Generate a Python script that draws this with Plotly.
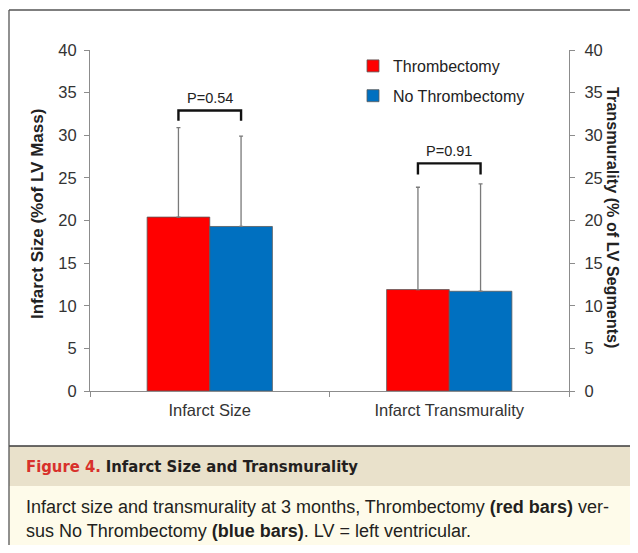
import plotly.graph_objects as go

# ---------------- data ----------------
categories = ["Infarct Size", "Infarct Transmurality"]
series_names = ["Thrombectomy", "No Thrombectomy"]
thrombectomy = [20.4, 11.9]
thrombectomy_sd = [10.5, 12.0]
no_thrombectomy = [19.3, 11.7]
no_thrombectomy_sd = [10.6, 12.6]
p_labels = ["P=0.54", "P=0.91"]
bracket_top = [32.9, 26.7]
bracket_end = [31.7, 25.4]
p_label_y = [34.4, 28.1]
y_ticks = [0, 5, 10, 15, 20, 25, 30, 35, 40]

# ---------------- geometry ----------------
# page body has an 8px margin; keep the figure inside the 638x553 window
OFF = 8
W, H = 638 - 2 * OFF, 553 - 2 * OFF
PLOT_X0, PLOT_X1, PLOT_Y0, PLOT_Y1 = 90, 569, 50, 391  # screen pixels
L, R = PLOT_X0 - OFF, W - (PLOT_X1 - OFF)
T, B = PLOT_Y0 - OFF, H - (PLOT_Y1 - OFF)
PW, PH = W - L - R, H - T - B
BARGAP = 0.477


def px(x):
    """screen x -> paper"""
    return (x - PLOT_X0) / PW


def py(y):
    """screen y -> paper"""
    return (PLOT_Y1 - y) / PH


RED = "#ff0000"
BLUE = "#0070c0"
AX = "#8c8c8c"
TXT = "#333333"
FONT = "Liberation Sans, Arial, sans-serif"

fig = go.Figure()
fig.add_trace(go.Bar(
    x=categories, y=thrombectomy, name=series_names[0],
    marker=dict(color=RED, line=dict(color="#5a5a5a", width=0.8)),
    error_y=dict(type="data", array=thrombectomy_sd, arrayminus=[0, 0],
                 symmetric=False, color="#7a7a7a", thickness=1.3, width=2),
    legendgroup="a",
))
fig.add_trace(go.Bar(
    x=categories, y=no_thrombectomy, name=series_names[1],
    marker=dict(color=BLUE, line=dict(color="#5a5a5a", width=0.8)),
    error_y=dict(type="data", array=no_thrombectomy_sd, arrayminus=[0, 0],
                 symmetric=False, color="#7a7a7a", thickness=1.3, width=2),
    legendgroup="b",
))
# invisible trace to anchor right axis
fig.add_trace(go.Scatter(x=categories, y=[None, None], yaxis="y2",
                         showlegend=False, hoverinfo="skip"))

shapes = []
annotations = []

# significance brackets
off = (1 - BARGAP) / 4
for i, lab in enumerate(p_labels):
    x0, x1 = i - off, i + off
    shapes.append(dict(
        type="path", xref="x", yref="y",
        path=f"M {x0},{bracket_end[i]} L {x0},{bracket_top[i]} L {x1},{bracket_top[i]} L {x1},{bracket_end[i]}",
        line=dict(color="#111111", width=2.4),
    ))
    annotations.append(dict(
        x=i, y=p_label_y[i], xref="x", yref="y", text=lab, showarrow=False,
        font=dict(family=FONT, size=14.5, color="#222222"),
        xanchor="center", yanchor="middle",
    ))

# axis titles
annotations.append(dict(
    x=px(37), y=py(214), xref="paper", yref="paper",
    text="<b>Infarct Size (%of LV Mass)</b>", textangle=-90,
    showarrow=False, font=dict(family=FONT, size=17, color="#222222"),
    xanchor="center", yanchor="middle",
))
annotations.append(dict(
    x=px(613), y=py(217), xref="paper", yref="paper",
    text="<b>Transmurality (% of LV Segments)</b>", textangle=90,
    showarrow=False, font=dict(family=FONT, size=16.2, color="#222222"),
    xanchor="center", yanchor="middle",
))

# caption panel
shapes += [
    dict(type="rect", xref="paper", yref="paper", x0=px(9), x1=px(660),
         y0=py(486), y1=py(446), fillcolor="#e9e1cb", line=dict(width=0), layer="below"),
    dict(type="rect", xref="paper", yref="paper", x0=px(9), x1=px(660),
         y0=py(580), y1=py(486), fillcolor="#fefbea", line=dict(width=0), layer="below"),
    dict(type="line", xref="paper", yref="paper", x0=px(9), x1=px(660),
         y0=py(446), y1=py(446), line=dict(color="#3a3a3a", width=1.5)),
    dict(type="line", xref="paper", yref="paper", x0=px(9), x1=px(660),
         y0=py(10), y1=py(10), line=dict(color="#555555", width=1.3)),
    dict(type="line", xref="paper", yref="paper", x0=px(9), x1=px(9),
         y0=py(10), y1=py(580), line=dict(color="#555555", width=1.3)),
]

CAP = "DejaVu Sans Condensed, Liberation Sans Narrow, sans-serif"
annotations += [
    dict(x=px(24), y=py(466), xref="paper", yref="paper", showarrow=False,
         xanchor="left", yanchor="middle",
         text="<span style='color:#d8312b'><b>Figure 4.</b></span> <b>Infarct Size and Transmurality</b>",
         font=dict(family=CAP, size=16.5, color="#231f20")),
    dict(x=px(24), y=py(507), xref="paper", yref="paper", showarrow=False,
         xanchor="left", yanchor="middle",
         text="Infarct size and transmurality at 3 months, Thrombectomy <b>(red bars)</b> ver-",
         font=dict(family=FONT, size=18, color="#231f20")),
    dict(x=px(24), y=py(531), xref="paper", yref="paper", showarrow=False,
         xanchor="left", yanchor="middle",
         text="sus No Thrombectomy <b>(blue bars)</b>. LV = left ventricular.",
         font=dict(family=FONT, size=18, color="#231f20")),
]

fig.update_layout(
    width=W, height=H,
    margin=dict(l=L, r=R, t=T, b=B, autoexpand=False),
    paper_bgcolor="white", plot_bgcolor="white",
    barmode="group", bargap=BARGAP, bargroupgap=0,
    font=dict(family=FONT, color=TXT),
    showlegend=True,
    legend=dict(x=px(353), y=py(49), xanchor="left", yanchor="top",
                font=dict(family=FONT, size=16, color="#222222"),
                bgcolor="rgba(0,0,0,0)", tracegroupgap=6, traceorder="grouped"),
    xaxis=dict(showline=True, linecolor=AX, linewidth=1.2, ticks="outside",
               tickson="boundaries", ticklen=5, tickcolor=AX,
               ticklabelstandoff=4,
               tickfont=dict(family=FONT, size=16.5, color=TXT),
               showgrid=False, zeroline=False, automargin=False),
    yaxis=dict(range=[0, 40], tickvals=y_ticks, showline=True, linecolor=AX,
               linewidth=1.2, ticks="outside", ticklen=5, tickcolor=AX,
               ticklabelstandoff=4,
               tickfont=dict(family=FONT, size=16.5, color=TXT),
               showgrid=False, zeroline=False, automargin=False),
    yaxis2=dict(range=[0, 40], tickvals=y_ticks, overlaying="y", side="right",
                showline=True, linecolor=AX, linewidth=1.2, ticks="outside",
                ticklen=5, tickcolor=AX, ticklabelstandoff=6,
                tickfont=dict(family=FONT, size=16.5, color=TXT),
                showgrid=False, zeroline=False, automargin=False),
    shapes=shapes, annotations=annotations,
)

fig.write_html("out.html")
